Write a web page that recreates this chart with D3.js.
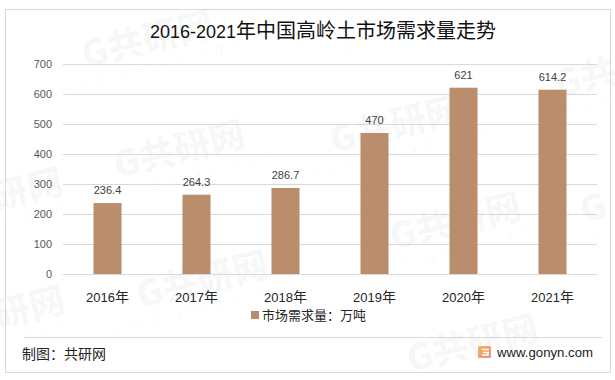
<!DOCTYPE html>
<html>
<head>
<meta charset="utf-8">
<script src="https://cdn.jsdelivr.net/npm/d3@7"></script>
<style>
  html, body { margin: 0; padding: 0; background: #fff; }
  svg { display: block; }
  text { font-family: "Liberation Sans", "Noto Sans CJK SC", sans-serif; }
  .cjk { font-family: "Noto Sans CJK SC", sans-serif; }
</style>
</head>
<body>
<div id="chart"></div>
<script>
var years = ["2016年", "2017年", "2018年", "2019年", "2020年", "2021年"];
var demand = [236.4, 264.3, 286.7, 470, 621, 614.2];
var yTicks = [0, 100, 200, 300, 400, 500, 600, 700];
var title = "2016-2021年中国高岭土市场需求量走势";
var legendLabel = "市场需求量：万吨";
var source = "制图：共研网";
var site = "www.gonyn.com";
// watermark stamps: centre x, centre y, big text, small text
var marks = [
  [150, 50, "G共研网", "www.gonyn.com"],
  [182, 160, "G共研网", "www.gonyn.com"],
  [205, 290, "G共研网", "www.gonyn.com"],
  [398, 135, "G共研网", "www.gonyn.com"],
  [458, 232, "G共研网", "www.gonyn.com"],
  [475, 354, "G共研网", ""],
  [395, 16, "", "gonyn.co"],
  [30, 200, "研网", "n.com"],
  [32, 318, "研网", "n.com"],
  [588, 88, "G共", "www"],
  [596, 218, "G", "w"]
];

var width = 615, height = 380;
var margin = {top: 64, right: 18, bottom: 106, left: 63};

var svg = d3.select("#chart")
  .append("svg")
    .attr("width", width)
    .attr("height", height);

var x = d3.scaleBand()
    .domain(years)
    .range([margin.left, width - margin.right])
    .paddingInner(0.685)
    .paddingOuter(0.3425);

var y = d3.scaleLinear()
    .domain([0, 700])
    .range([height - margin.bottom, margin.top]);

// latin text is drawn a bit smaller than the CJK next to it, as in the original
function mixed(sel, str, latinSize, cjkSize) {
  sel.selectAll("tspan")
      .data(str.match(/[\x00-\x7f]+|[^\x00-\x7f]+/g))
    .enter().append("tspan")
      .attr("class", d => /[\x00-\x7f]/.test(d) ? null : "cjk")
      .style("font-size", d => (/[\x00-\x7f]/.test(d) ? latinSize : cjkSize) + "px")
      .text(d => d);
}

// frame
svg.append("rect")
    .attr("x", 5.5).attr("y", 9.5)
    .attr("width", 605).attr("height", 363)
    .attr("fill", "#fff")
    .attr("stroke", "#d9d9d9")
    .attr("stroke-width", 1);

// watermark
var wm = svg.append("g").attr("class", "watermark")
  .selectAll("g")
    .data(marks)
  .enter().append("g")
    .attr("transform", d => `translate(${d[0]},${d[1]}) rotate(-14)`)
    .attr("text-anchor", "middle")
    .attr("fill", "#000")
    .attr("fill-opacity", 0.035);

wm.append("text")
    .attr("class", "cjk")
    .attr("y", 2)
    .style("font-size", "36px")
    .style("font-weight", "900")
    .text(d => d[2]);

wm.append("text")
    .attr("y", 20)
    .style("font-size", "14px")
    .style("letter-spacing", "7px")
    .text(d => d[3]);

// grid
svg.append("g")
    .attr("class", "grid")
  .selectAll("line")
    .data(yTicks)
  .enter().append("line")
    .attr("x1", margin.left)
    .attr("x2", width - margin.right)
    .attr("y1", d => Math.round(y(d)) + 0.5)
    .attr("y2", d => Math.round(y(d)) + 0.5)
    .attr("stroke", "#d9d9d9");

// bars
svg.append("g")
    .attr("class", "bars")
  .selectAll("rect")
    .data(demand)
  .enter().append("rect")
    .attr("x", (d, i) => x(years[i]))
    .attr("y", d => y(d))
    .attr("width", x.bandwidth())
    .attr("height", d => y(0) - y(d))
    .attr("fill", "#ba8e6c");

// data labels
svg.append("g")
    .attr("class", "labels")
  .selectAll("text")
    .data(demand)
  .enter().append("text")
    .attr("x", (d, i) => x(years[i]) + x.bandwidth() / 2)
    .attr("y", d => y(d) - 9)
    .attr("text-anchor", "middle")
    .attr("fill", "#404040")
    .style("font-size", "11px")
    .text(d => d);

// y axis
var yAxis = svg.append("g")
    .attr("class", "axis axis-y")
    .attr("transform", `translate(${margin.left},0)`)
    .call(d3.axisLeft(y).tickValues(yTicks).tickSize(0).tickPadding(11));
yAxis.select(".domain").remove();
yAxis.selectAll("text")
    .attr("fill", "#595959")
    .style("font-family", null)
    .style("font-size", "11px");

// x axis
svg.append("g")
    .attr("class", "axis axis-x")
  .selectAll("text")
    .data(years)
  .enter().append("text")
    .attr("x", d => x(d) + x.bandwidth() / 2)
    .attr("y", 302)
    .attr("text-anchor", "middle")
    .attr("fill", "#262626")
    .each(function(d) { mixed(d3.select(this), d, 13, 14); });

// title
svg.append("text")
    .attr("x", 323)
    .attr("y", 38)
    .attr("text-anchor", "middle")
    .attr("fill", "#111")
    .each(function() { mixed(d3.select(this), title, 18, 20); });

// legend
svg.append("rect")
    .attr("x", 251).attr("y", 311)
    .attr("width", 8).attr("height", 8)
    .attr("fill", "#ba8e6c");
svg.append("text")
    .attr("class", "cjk")
    .attr("x", 262)
    .attr("y", 320)
    .attr("fill", "#262626")
    .style("font-size", "13px")
    .text(legendLabel);

// footer
svg.append("line")
    .attr("x1", 24).attr("x2", 602)
    .attr("y1", 337.5).attr("y2", 337.5)
    .attr("stroke", "#d9d9d9");

svg.append("text")
    .attr("class", "cjk")
    .attr("x", 22)
    .attr("y", 359)
    .attr("fill", "#222")
    .style("font-size", "14px")
    .text(source);

var grad = svg.append("defs").append("linearGradient")
    .attr("id", "logo-fill")
    .attr("x1", 0).attr("x2", 1).attr("y1", 0).attr("y2", 1);
grad.append("stop").attr("offset", 0).attr("stop-color", "#f5b45a");
grad.append("stop").attr("offset", 1).attr("stop-color", "#ee8f78");

svg.append("rect")
    .attr("x", 478).attr("y", 346)
    .attr("width", 13).attr("height", 12)
    .attr("rx", 1.5)
    .attr("fill", "url(#logo-fill)");
svg.append("path")
    .attr("d", "M482,349.5H489M483,352.5H488V355H482")
    .attr("fill", "none")
    .attr("stroke", "#fff")
    .attr("stroke-width", 1.6);

svg.append("text")
    .attr("x", 497)
    .attr("y", 357)
    .attr("fill", "#222")
    .style("font-size", "13.2px")
    .text(site);
</script>
</body>
</html>
